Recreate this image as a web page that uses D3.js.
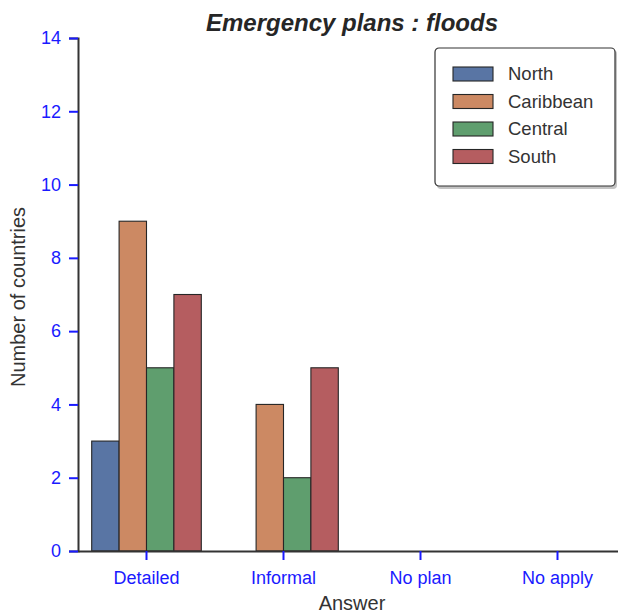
<!DOCTYPE html>
<html>
<head>
<meta charset="utf-8">
<script src="https://cdn.jsdelivr.net/npm/d3@7"></script>
<style>
  body { margin: 0; background: #fff; }
  svg { font-family: "Liberation Sans", Arial, sans-serif; display: block; }
</style>
</head>
<body>
<div id="chart"></div>
<script>
const categories = ["Detailed", "Informal", "No plan", "No apply"];
const regions = ["North", "Caribbean", "Central", "South"];
const northValues = [3, 0, 0, 0];
const caribbeanValues = [9, 4, 0, 0];
const centralValues = [5, 2, 0, 0];
const southValues = [7, 5, 0, 0];
const yTicks = [0, 2, 4, 6, 8, 10, 12, 14];

const colors = ["#5975a4", "#cc8963", "#5f9e6e", "#b55d60"];
const series = [northValues, caribbeanValues, centralValues, southValues];

const W = 618, H = 614;
const M = { top: 38, right: -8, bottom: 63, left: 78 };
const width = W - M.left - M.right;
const height = H - M.top - M.bottom;

const svg = d3.select("#chart").append("svg")
	.attr("width", W)
	.attr("height", H);

const g = svg.append("g")
	.attr("transform", `translate(${M.left},${M.top})`);

const step = width / categories.length;
const x0 = d3.scaleBand().domain(categories).range([0, width]);
const xHue = d3.scaleBand()
	.domain(regions)
	.range([step * 0.1, step * 0.9]);

const y = d3.scaleLinear().domain([0, 14]).range([height, 0]);

// bars
regions.forEach((r, i) => {
	g.selectAll(".bar-" + i)
		.data(categories.map((c, j) => ({ c, v: series[i][j] })))
		.join("rect")
		.attr("x", d => x0(d.c) + xHue(r))
		.attr("width", xHue.bandwidth())
		.attr("y", d => y(d.v))
		.attr("height", d => height - y(d.v))
		.attr("fill", colors[i])
		.attr("stroke", "#262626")
		.attr("stroke-width", 1.1);
});

// y axis
const yAx = g.append("g")
	.call(d3.axisLeft(y).tickValues(yTicks).tickSize(9).tickPadding(8));
yAx.select(".domain").attr("stroke", "#333").attr("stroke-width", 2);
yAx.selectAll(".tick line").attr("stroke", "#1a1aff").attr("stroke-width", 2);
yAx.selectAll("text")
	.attr("fill", "#1a1aff")
	.style("font-size", "18px");

// x axis
const xAx = g.append("g")
	.attr("transform", `translate(0,${height})`)
	.call(d3.axisBottom(x0).tickSize(9).tickPadding(11).tickSizeOuter(0));
xAx.select(".domain").attr("stroke", "#333").attr("stroke-width", 2);
xAx.selectAll(".tick line").attr("stroke", "#1a1aff").attr("stroke-width", 2);
xAx.selectAll("text")
	.attr("fill", "#1a1aff")
	.style("font-size", "18px");

// titles
svg.append("text")
	.attr("x", M.left + width / 2)
	.attr("y", 31)
	.attr("text-anchor", "middle")
	.attr("fill", "#262626")
	.style("font-size", "24px")
	.style("font-weight", "bold")
	.style("font-style", "italic")
	.text("Emergency plans : floods");

svg.append("text")
	.attr("x", M.left + width / 2)
	.attr("y", 610)
	.attr("text-anchor", "middle")
	.attr("fill", "#333")
	.style("font-size", "20px")
	.text("Answer");

svg.append("text")
	.attr("transform", `translate(25,297) rotate(-90)`)
	.attr("text-anchor", "middle")
	.attr("fill", "#333")
	.style("font-size", "20px")
	.text("Number of countries");

// legend
const lg = svg.append("g").attr("transform", "translate(435,48)");
lg.append("rect")
	.attr("x", 2).attr("y", 2)
	.attr("width", 180).attr("height", 139)
	.attr("rx", 4)
	.attr("fill", "#888")
	.attr("opacity", 0.5);
lg.append("rect")
	.attr("width", 180).attr("height", 138)
	.attr("rx", 4)
	.attr("fill", "#fff")
	.attr("stroke", "#333")
	.attr("stroke-width", 1.2);

regions.forEach((r, i) => {
	const row = lg.append("g").attr("transform", `translate(18,${19 + i * 27.5})`);
	row.append("rect")
		.attr("width", 40).attr("height", 14)
		.attr("fill", colors[i])
		.attr("stroke", "#262626")
		.attr("stroke-width", 1.1);
	row.append("text")
		.attr("x", 55).attr("y", 7)
		.attr("dy", "0.35em")
		.attr("fill", "#333")
		.style("font-size", "18.5px")
		.text(r);
});
</script>
</body>
</html>
